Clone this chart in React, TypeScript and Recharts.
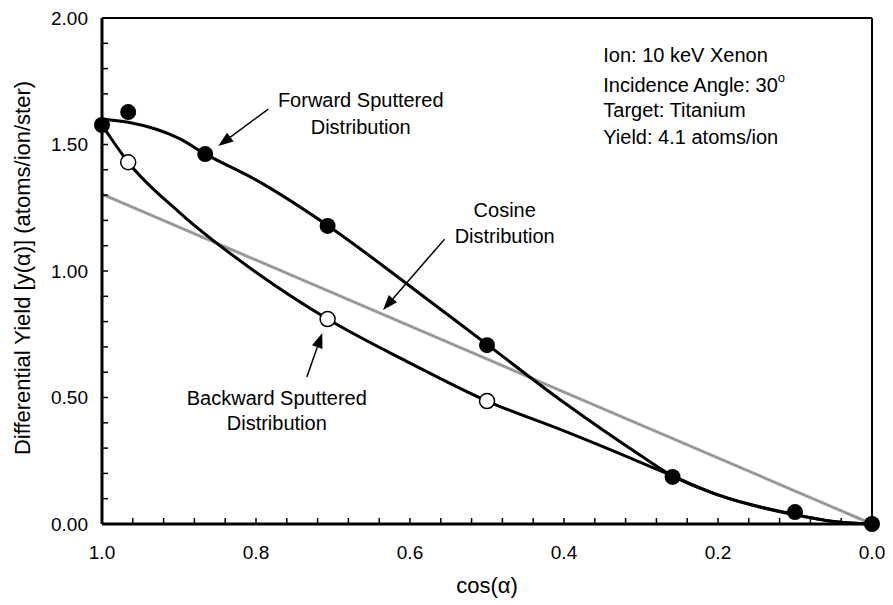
import { ComposedChart, Line, Scatter, XAxis, YAxis, ReferenceLine, ReferenceDot, Label } from 'recharts';

const FONT = '"Liberation Sans", Arial, sans-serif';

// measured points: cos(alpha) vs differential yield
const forwardCos = [1.0, 0.966, 0.866, 0.707, 0.5, 0.259, 0.1, 0.0];
const forwardYield = [1.577, 1.628, 1.462, 1.178, 0.707, 0.186, 0.047, 0.0];
const backwardCos = [0.966, 0.707, 0.5];
const backwardYield = [1.43, 0.81, 0.486];

// fitted curves
const forwardFitCos = [1.0, 0.966, 0.9, 0.866, 0.8, 0.707, 0.6, 0.5, 0.4, 0.3, 0.259, 0.2, 0.1, 0.05, 0.0];
const forwardFitYield = [1.6, 1.588, 1.524, 1.463, 1.36, 1.18, 0.94, 0.71, 0.48, 0.27, 0.19, 0.115, 0.036, 0.01, 0];
const backwardFitCos = [1.0, 0.966, 0.9, 0.8, 0.707, 0.6, 0.5, 0.4, 0.3, 0.259, 0.2, 0.1, 0.05, 0.0];
const backwardFitYield = [1.577, 1.43, 1.233, 0.995, 0.81, 0.636, 0.486, 0.368, 0.243, 0.19, 0.115, 0.038, 0.01, 0];
const cosineCos = [1.0, 0.0];
const cosineYield = [1.304, 0.0];

const xTicks = [0, 0.04, 0.08, 0.12, 0.16, 0.2, 0.24, 0.28, 0.32, 0.36, 0.4, 0.44, 0.48, 0.52, 0.56, 0.6, 0.64, 0.68, 0.72, 0.76, 0.8, 0.84, 0.88, 0.92, 0.96, 1.0];
const yTicks = [0, 0.1, 0.2, 0.3, 0.4, 0.5, 0.6, 0.7, 0.8, 0.9, 1.0, 1.1, 1.2, 1.3, 1.4, 1.5, 1.6, 1.7, 1.8, 1.9, 2.0];

const zip = (xs: number[], ys: number[]) => xs.map((x, i) => ({ x, y: ys[i] }));

const forwardPts = zip(forwardCos, forwardYield);
const backwardPts = zip(backwardCos, backwardYield);
const forwardFit = zip(forwardFitCos, forwardFitYield);
const backwardFit = zip(backwardFitCos, backwardFitYield);
const cosine = zip(cosineCos, cosineYield);

const isMultiple = (v: number, step: number) => Math.abs(v / step - Math.round(v / step)) < 1e-6;

const X_MARGIN = 20;
const Y_MARGIN = 14;
const TICK_LEN = 6;

// inward tick marks drawn with the labels
function XTick(p: any) {
  const v = p.payload.value;
  const axisY = p.y - X_MARGIN;
  return (
    <g>
      <line x1={p.x} y1={axisY} x2={p.x} y2={axisY - TICK_LEN} stroke="#000" strokeWidth={1.5} />
      {isMultiple(v, 0.2) && (
        <text x={p.x} y={axisY + 28} textAnchor="middle" dominantBaseline="central" fontFamily={FONT} fontSize={19} fill="#000">
          {v.toFixed(1)}
        </text>
      )}
    </g>
  );
}

function YTick(p: any) {
  const v = p.payload.value;
  const axisX = p.x + Y_MARGIN;
  return (
    <g>
      <line x1={axisX} y1={p.y} x2={axisX + TICK_LEN} y2={p.y} stroke="#000" strokeWidth={1.5} />
      {isMultiple(v, 0.5) && (
        <text x={p.x} y={p.y} textAnchor="end" dominantBaseline="central" fontFamily={FONT} fontSize={19} fill="#000">
          {v.toFixed(2)}
        </text>
      )}
    </g>
  );
}

function Arrow(p: any) {
  const { x1, y1, x2, y2 } = p;
  const a = Math.atan2(y2 - y1, x2 - x1);
  const len = 15, half = 5.5;
  const bx = x2 - len * Math.cos(a), by = y2 - len * Math.sin(a);
  const px = -Math.sin(a) * half, py = Math.cos(a) * half;
  return (
    <g>
      <line x1={x1} y1={y1} x2={bx} y2={by} stroke="#000" strokeWidth={1.5} />
      <polygon points={`${x2},${y2} ${bx + px},${by + py} ${bx - px},${by - py}`} fill="#000" />
    </g>
  );
}

const note = (lines: string[], anchor: 'middle' | 'start', gaps: number[]) => (p: any) => (
  <text x={p.cx} y={p.cy} textAnchor={anchor} fontFamily={FONT} fontSize={20} fill="#000" dominantBaseline="central">
    {lines.map((l, i) => (
      <tspan key={i} x={p.cx} y={p.cy + gaps[i]}>
        {l === 'Incidence Angle: 30' ? (
          <>
            {l}
            <tspan fontSize={13} dy={-8}>o</tspan>
          </>
        ) : l}
      </tspan>
    ))}
  </text>
);

export default function App() {
  return (
    <div style={{ position: 'absolute', left: 0, top: 0, background: '#fff' }}>
      <ComposedChart width={893} height={605} margin={{ top: 18, right: 21, bottom: 0, left: 0 }}>
        <XAxis
          type="number"
          dataKey="x"
          domain={[0, 1]}
          reversed
          ticks={xTicks}
          interval={0}
          height={81}
          tickSize={0}
          tickMargin={X_MARGIN}
          axisLine={{ stroke: '#000', strokeWidth: 3 }}
          tickLine={false}
          tick={XTick}
        >
          <Label
            content={({ viewBox }: any) => (
              <text x={viewBox.x + viewBox.width / 2} y={viewBox.y + 61} textAnchor="middle" dominantBaseline="central" fontFamily={FONT} fontSize={22} fill="#000">
                cos(α)
              </text>
            )}
          />
        </XAxis>
        <YAxis
          type="number"
          domain={[0, 2]}
          ticks={yTicks}
          interval={0}
          width={102}
          tickSize={0}
          tickMargin={Y_MARGIN}
          axisLine={{ stroke: '#000', strokeWidth: 3 }}
          tickLine={false}
          tick={YTick}
        >
          <Label
            content={({ viewBox }: any) => {
              const cx = 22;
              const cy = viewBox.y + viewBox.height / 2 - 3;
              return (
                <text x={cx} y={cy} transform={`rotate(-90 ${cx} ${cy})`} textAnchor="middle" dominantBaseline="central" fontFamily={FONT} fontSize={22} fill="#000">
                  Differential Yield [y(α)] (atoms/ion/ster)
                </text>
              );
            }}
          />
        </YAxis>

        <ReferenceLine y={2} stroke="#000" strokeWidth={2} />
        <ReferenceLine x={0} stroke="#000" strokeWidth={2} />

        <Line data={cosine} dataKey="y" type="linear" stroke="#999999" strokeWidth={3} dot={false} activeDot={false} isAnimationActive={false} />
        <Line data={backwardFit} dataKey="y" type="monotone" stroke="#000" strokeWidth={3} dot={false} activeDot={false} isAnimationActive={false} />
        <Line data={forwardFit} dataKey="y" type="monotone" stroke="#000" strokeWidth={3} dot={false} activeDot={false} isAnimationActive={false} />

        <Scatter
          data={backwardPts}
          dataKey="y"
          isAnimationActive={false}
          shape={(p: any) => <circle cx={p.cx} cy={p.cy} r={7.5} fill="#fff" stroke="#000" strokeWidth={1.5} />}
        />
        <Scatter
          data={forwardPts}
          dataKey="y"
          isAnimationActive={false}
          shape={(p: any) => <circle cx={p.cx} cy={p.cy} r={8} fill="#000" />}
        />

        <ReferenceLine segment={[{ x: 0.784, y: 1.64 }, { x: 0.849, y: 1.494 }]} ifOverflow="visible" shape={Arrow} />
        <ReferenceLine segment={[{ x: 0.555, y: 1.126 }, { x: 0.635, y: 0.846 }]} ifOverflow="visible" shape={Arrow} />
        <ReferenceLine segment={[{ x: 0.734, y: 0.581 }, { x: 0.714, y: 0.755 }]} ifOverflow="visible" shape={Arrow} />

        <ReferenceDot x={0.664} y={1.625} r={0} ifOverflow="visible" shape={note(['Forward Sputtered', 'Distribution'], 'middle', [-13, 14])} />
        <ReferenceDot x={0.477} y={1.19} r={0} ifOverflow="visible" shape={note(['Cosine', 'Distribution'], 'middle', [-13, 13])} />
        <ReferenceDot x={0.773} y={0.449} r={0} ifOverflow="visible" shape={note(['Backward Sputtered', 'Distribution'], 'middle', [-12, 13])} />
        <ReferenceDot
          x={0.349}
          y={1.854}
          r={0}
          ifOverflow="visible"
          shape={note(['Ion: 10 keV Xenon', 'Incidence Angle: 30', 'Target: Titanium', 'Yield: 4.1 atoms/ion'], 'start', [0, 30, 55, 82])}
        />
      </ComposedChart>
    </div>
  );
}
